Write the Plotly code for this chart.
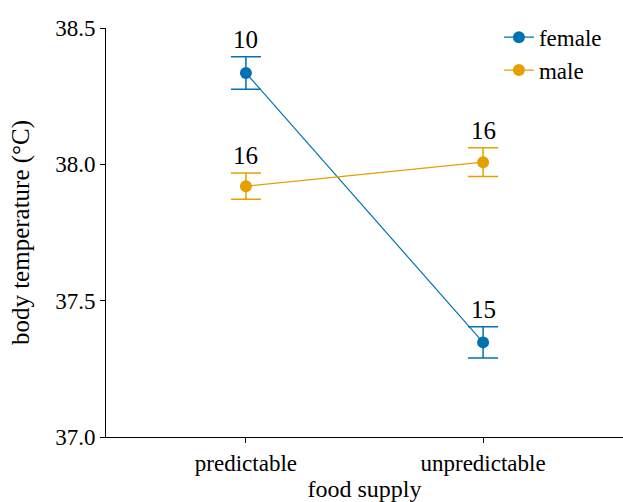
import plotly.graph_objects as go

categories = ["predictable", "unpredictable"]
female_mean = [38.335, 37.347]
female_se = [0.06, 0.057]
female_n = ["10", "15"]
male_mean = [37.92, 38.008]
male_se = [0.048, 0.053]
male_n = ["16", "16"]
y_ticks = [37.0, 37.5, 38.0, 38.5]

blue = "#0072B2"
orange = "#E69F00"
font = "Liberation Serif"

fig = go.Figure()
xpos = [0, 1]
for name, mean, se, n, col in [("female", female_mean, female_se, female_n, blue),
                               ("male", male_mean, male_se, male_n, orange)]:
    fig.add_trace(go.Scatter(
        x=xpos, y=mean, name=name, mode="lines+markers",
        line=dict(color=col, width=1.2),
        marker=dict(color=col, size=12),
        error_y=dict(type="data", array=se, color=col, thickness=1.5, width=15),
    ))
    for xi, m, s, t in zip(xpos, mean, se, n):
        fig.add_annotation(x=xi, y=m + s, text=t, showarrow=False,
                           yanchor="bottom", yshift=2,
                           font=dict(family=font, size=25, color="black"))

fig.update_layout(
    width=623, height=502,
    margin=dict(l=106, r=0, t=28, b=65),
    plot_bgcolor="white", paper_bgcolor="white",
    font=dict(family=font, size=23, color="black"),
    legend=dict(x=0.76, y=1.03, xanchor="left", yanchor="top",
                font=dict(family=font, size=23), bgcolor="rgba(0,0,0,0)",
                itemwidth=30, tracegroupgap=0),
    xaxis=dict(range=[-0.59, 1.59], tickvals=xpos, ticktext=categories,
               showline=True, linecolor="black", linewidth=1,
               ticks="outside", ticklen=5, tickcolor="black",
               showgrid=False, zeroline=False, automargin=False,
               title=dict(text="food supply", font=dict(family=font, size=24), standoff=12),
               tickfont=dict(family=font, size=23)),
    yaxis=dict(range=[37.0, 38.5], tickvals=y_ticks,
               ticktext=[f"{v:.1f}" for v in y_ticks],
               showline=True, linecolor="black", linewidth=1,
               ticks="outside", ticklen=5, tickcolor="black",
               showgrid=False, zeroline=False, automargin=False,
               title=dict(text="body temperature (°C)", font=dict(family=font, size=25), standoff=18),
               tickfont=dict(family=font, size=23)),
)

fig.write_html("out.html", config={"displayModeBar": False},
               post_script="document.body.style.margin='0';document.body.style.overflow='hidden';")
